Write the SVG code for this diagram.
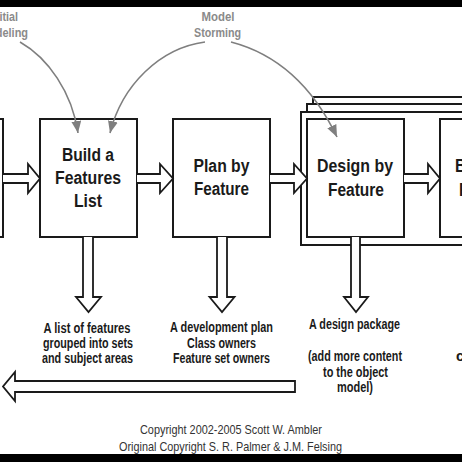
<svg xmlns="http://www.w3.org/2000/svg" width="462" height="462" viewBox="0 0 462 462">
<style>
.box{fill:#fff;stroke:#1a1a1a;stroke-width:2}
.frame{fill:#fff;stroke:#1a1a1a;stroke-width:2}
.blk{fill:#fff;stroke:#1a1a1a;stroke-width:1.8;stroke-linejoin:miter}
.curve{fill:none;stroke:#7f7f7f;stroke-width:1.6}
.title{font-family:"Liberation Sans",Arial,sans-serif;font-weight:bold;font-size:18px;fill:#1a1a1a;text-anchor:middle}
.out{font-family:"Liberation Sans",Arial,sans-serif;font-weight:bold;font-size:14.5px;fill:#1a1a1a;text-anchor:middle}
.tech{font-family:"Liberation Sans",Arial,sans-serif;font-weight:bold;font-size:13px;fill:#8a8a8a;text-anchor:middle}
.copy{font-family:"Liberation Sans",Arial,sans-serif;font-size:13.5px;fill:#333;text-anchor:middle}
</style>
<defs>
<marker id="ga" markerUnits="userSpaceOnUse" markerWidth="14" markerHeight="12" refX="12" refY="5" orient="auto">
<path d="M0,0 L12,5 L0,10 Z" fill="#7f7f7f"/>
</marker>
</defs>
<rect width="462" height="462" fill="#fff"/>

<g id="iteration-stack">
<rect class="frame" x="313" y="97" width="200" height="130"/>
<rect class="frame" x="307" y="104" width="200" height="132"/>
<rect class="frame" x="301" y="112" width="200" height="133"/>
</g>

<g id="develop-model">
<rect class="box" x="-20" y="119" width="23" height="118"/>
</g>

<g id="build-features-list">
<rect class="box" x="40" y="119" width="97" height="118"/>
<text class="title" x="88" y="161" textLength="52" lengthAdjust="spacingAndGlyphs">Build a</text>
<text class="title" x="88" y="184" textLength="66" lengthAdjust="spacingAndGlyphs">Features</text>
<text class="title" x="88" y="207" textLength="28" lengthAdjust="spacingAndGlyphs">List</text>
</g>

<g id="plan-by-feature">
<rect class="box" x="173" y="119" width="97" height="118"/>
<text class="title" x="221.5" y="172" textLength="56" lengthAdjust="spacingAndGlyphs">Plan by</text>
<text class="title" x="221.5" y="195" textLength="55" lengthAdjust="spacingAndGlyphs">Feature</text>
</g>

<g id="design-by-feature">
<rect class="box" x="307" y="119" width="97" height="118"/>
<text class="title" x="355" y="172" textLength="76" lengthAdjust="spacingAndGlyphs">Design by</text>
<text class="title" x="356" y="196" textLength="56" lengthAdjust="spacingAndGlyphs">Feature</text>
</g>

<g id="build-by-feature">
<rect class="box" x="440" y="119" width="97" height="118"/>
<text class="title" x="486" y="172" textLength="62" lengthAdjust="spacingAndGlyphs">Build by</text>
<text class="title" x="487" y="196" textLength="56" lengthAdjust="spacingAndGlyphs">Feature</text>
</g>

<g id="connectors">
<path class="blk" d="M3,174 H28 V164 L40,178.5 L28,193 V183 H3"/>
<path class="blk" d="M137,174 H160 V164 L173,178.5 L160,193 V183 H137"/>
<path class="blk" d="M270,174 H294 V164 L307,178.5 L294,193 V183 H270"/>
<path class="blk" d="M404,174 H428 V164 L440,178.5 L428,193 V183 H404"/>
<path class="blk" d="M83,237 V297 H76 L88.5,312 L101,297 H93 V237"/>
<path class="blk" d="M217,237 V297 H209.5 L222,312 L234.5,297 H227 V237"/>
<path class="blk" d="M351,237 V297 H344 L356,312 L368,297 H360 V237"/>
<path class="blk" d="M295,381 H15 V372 L3,386.5 L15,401 V392 H295 Z"/>
<path class="curve" d="M20,42 C48,58 72,92 78,133" marker-end="url(#ga)"/>
<path class="curve" d="M205,42 C160,48 122,85 110,133" marker-end="url(#ga)"/>
<path class="curve" d="M231,42 Q300,60 337,137" marker-end="url(#ga)"/>
</g>

<g id="labels">
<text class="tech" x="4" y="21" textLength="28" lengthAdjust="spacingAndGlyphs">Initial</text>
<text class="tech" x="4" y="37" textLength="48" lengthAdjust="spacingAndGlyphs">Modeling</text>
<text class="tech" x="218" y="21" textLength="33" lengthAdjust="spacingAndGlyphs">Model</text>
<text class="tech" x="217.5" y="37" textLength="47" lengthAdjust="spacingAndGlyphs">Storming</text>

<text class="out" x="87" y="333" textLength="87" lengthAdjust="spacingAndGlyphs">A list of features</text>
<text class="out" x="88" y="348" textLength="90" lengthAdjust="spacingAndGlyphs">grouped into sets</text>
<text class="out" x="87.5" y="363" textLength="91" lengthAdjust="spacingAndGlyphs">and subject areas</text>

<text class="out" x="221.5" y="332" textLength="103" lengthAdjust="spacingAndGlyphs">A development plan</text>
<text class="out" x="221.5" y="348" textLength="69" lengthAdjust="spacingAndGlyphs">Class owners</text>
<text class="out" x="221.5" y="363" textLength="97" lengthAdjust="spacingAndGlyphs">Feature set owners</text>

<text class="out" x="354.5" y="329" textLength="91" lengthAdjust="spacingAndGlyphs">A design package</text>
<text class="out" x="355" y="361" textLength="94" lengthAdjust="spacingAndGlyphs">(add more content</text>
<text class="out" x="355.5" y="377" textLength="65" lengthAdjust="spacingAndGlyphs">to the object</text>
<text class="out" x="355" y="392" textLength="36" lengthAdjust="spacingAndGlyphs">model)</text>

<text class="out" x="456" y="361" style="text-anchor:start">c</text>

<text class="copy" x="231" y="434" textLength="182" lengthAdjust="spacingAndGlyphs">Copyright 2002-2005 Scott W. Ambler</text>
<text class="copy" x="230.5" y="451" textLength="223" lengthAdjust="spacingAndGlyphs">Original Copyright S. R. Palmer &amp; J.M. Felsing</text>
</g>

<rect x="0" y="0" width="462" height="7" fill="#000"/>
<rect x="0" y="454" width="462" height="8" fill="#000"/>
</svg>
